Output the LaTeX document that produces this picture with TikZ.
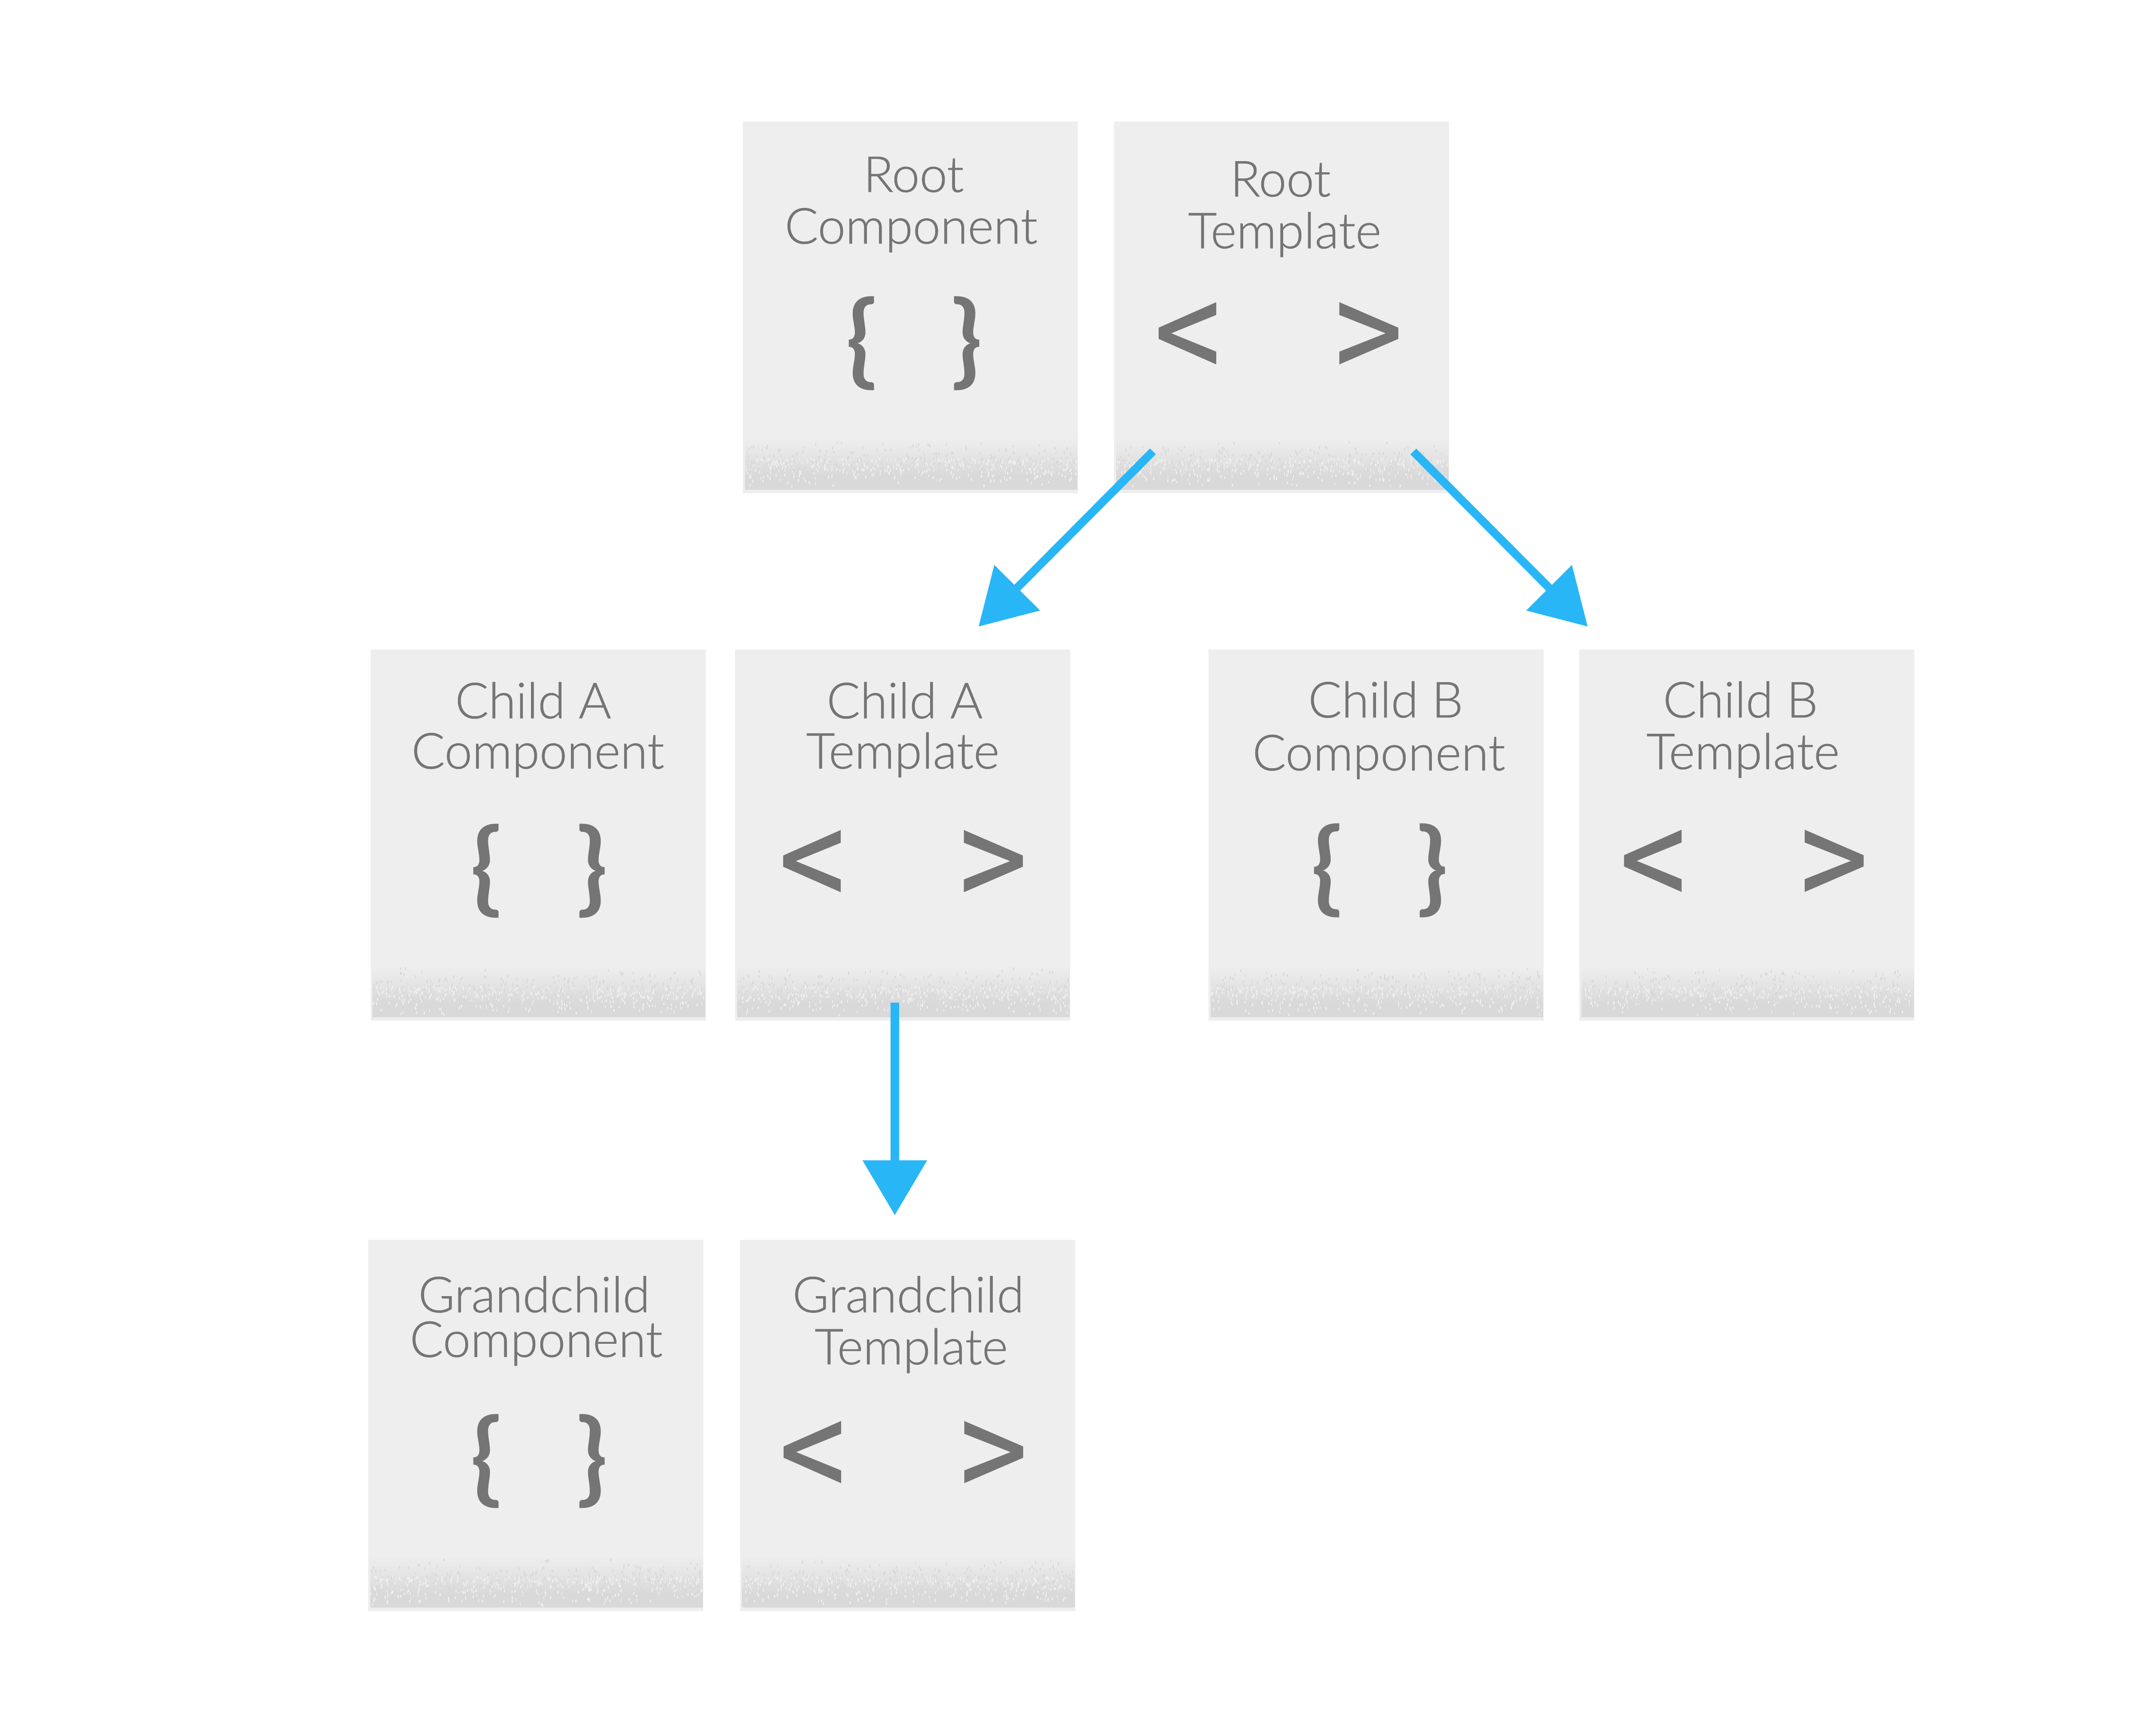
\documentclass[tikz,border=0pt]{standalone}
\usepackage{fontspec}
\setmainfont{Lato}[UprightFont={* Light},BoldFont={* Bold},UprightFeatures={FakeBold=0.8}]
\usetikzlibrary{arrows.meta}
\definecolor{boxfill}{HTML}{EEEEEE}
\definecolor{bandmid}{HTML}{E1E1E1}
\definecolor{bandhi}{HTML}{E9E9E9}
\definecolor{bandbot}{HTML}{D9D9D9}
\definecolor{txt}{HTML}{757575}
\definecolor{arrowc}{HTML}{29B6F6}
% TikZ maps the 25bp..75bp range of a shading onto the path
\pgfdeclareverticalshading{band}{100bp}{color(0bp)=(bandbot); color(25bp)=(bandbot); color(38bp)=(bandbot); color(52bp)=(bandmid); color(65bp)=(bandhi); color(75bp)=(boxfill); color(100bp)=(boxfill)}
\tikzset{
  card/.style={rectangle, fill=boxfill, inner sep=0pt, minimum width=122.3pt, minimum height=135.5pt, anchor=north west},
  lbl/.style={text=txt, font=\fontsize{18.1pt}{18.1pt}\selectfont, inner sep=0pt, anchor=base},
  bracech/.style={text=txt, font=\bfseries\fontsize{37pt}{37pt}\selectfont, inner sep=0pt},
  arr/.style={draw=arrowc, line width=3pt, -{Triangle[length=20pt,width=22.75pt]}},
  glyph/.style={fill=txt}
}
\newcommand\mycard[3]{%
  \node[card] (#1) at (#2,#3) {};
  \shade[shading=band] (#2+2,#3+231) rectangle (#2+244.6,#3+268.7);
  \foreach \k in {1,...,400}{%
    \pgfmathsetmacro\sx{#2+2+241.5*rnd}%
    \pgfmathsetmacro\sy{#3+232+25*sqrt(rnd)}%
    \fill[bandbot] (\sx,\sy) rectangle ++(0.8,2);
    \pgfmathsetmacro\tx{#2+2+241.5*rnd}%
    \pgfmathsetmacro\ty{#3+266.5-21*sqrt(rnd)}%
    \fill[boxfill] (\tx,\ty) rectangle ++(0.8,2);
  }%
}
\newcommand\chevL[2]{%
  \fill[glyph] (#1+42,#2) -- (#1+42,#2+9.3) -- (#1+9.2,#2+22.7) -- (#1+42,#2+36.1) -- (#1+42,#2+45.4) -- (#1,#2+26.8) -- (#1,#2+18.6) -- cycle;}
\newcommand\chevR[2]{%
  \fill[glyph] (#1,#2) -- (#1,#2+9.3) -- (#1+33.8,#2+22.7) -- (#1,#2+36.1) -- (#1,#2+45.4) -- (#1+43,#2+26.8) -- (#1+43,#2+18.6) -- cycle;}
\begin{document}
\begin{tikzpicture}[x=0.5pt,y=-0.5pt]
\pgfmathsetseed{42}
\useasboundingbox (0,0) rectangle (1568,1267.2);
\fill[white] (0,0) rectangle (1568,1267.2);
% cards
\mycard{rc}{541.8}{88.5}
\mycard{rt}{812.9}{88.5}
\mycard{ac}{270.1}{473.8}
\mycard{at}{536.3}{473.8}
\mycard{bc}{881.9}{473.8}
\mycard{bt}{1152.5}{473.8}
\mycard{gc}{268.4}{904.7}
\mycard{gt}{539.8}{904.7}
% labels
\node[lbl] (rc1) at (666.9,140.1) {Root};
\node[lbl] (rc2) at (665.1,177.8) {Component};
\node[lbl] (rt1) at (934.7,143.4) {Root};
\node[lbl] (rt2) at (937.8,181.2) {Template};
\node[lbl] (ac1) at (389.2,524.3) {Child A};
\node[lbl] (ac2) at (392.6,561) {Component};
\node[lbl] (at1) at (660.4,524.3) {Child A};
\node[lbl] (at2) at (659,561) {Template};
\node[lbl] (bc1) at (1011.5,523.7) {Child B};
\node[lbl] (bc2) at (1006.5,562.3) {Component};
\node[lbl] (bt1) at (1270.5,523.7) {Child B};
\node[lbl] (bt2) at (1272.3,561.4) {Template};
\node[lbl] (gc1) at (389.9,957.9) {Grandchild};
\node[lbl] (gc2) at (391.4,990.5) {Component};
\node[lbl] (gt1) at (663,957.9) {Grandchild};
\node[lbl] (gt2) at (665.2,995.9) {Template};
% braces
\node[bracech] (rcl) at (628.85,250.55) {\{};
\node[bracech] (rcr) at (705.75,250.55) {\}};
\node[bracech] (acl) at (355,635.65) {\{};
\node[bracech] (acr) at (432.2,635.65) {\}};
\node[bracech] (bcl) at (968.6,635.6) {\{};
\node[bracech] (bcr) at (1045.85,635.6) {\}};
\node[bracech] (gcl) at (355,1066.75) {\{};
\node[bracech] (gcr) at (432.2,1066.75) {\}};
% chevrons
\chevL{845.8}{220.6}\chevR{977.7}{220.6}
\chevL{571.7}{605.9}\chevR{703.6}{605.9}
\chevL{1185.5}{605.7}\chevR{1317.4}{605.7}
\chevL{572}{1037.3}\chevR{703.9}{1037.3}
% arrows
\coordinate (a1s) at (841.6,329.5);
\coordinate (a1e) at (714.3,457.4);
\coordinate (a2s) at (1031.7,329.6);
\coordinate (a2e) at (1159,457.4);
\coordinate (a3s) at (653.2,731.8);
\coordinate (a3e) at (653.2,887.1);
\draw[arr] (a1s) -- (a1e);
\draw[arr] (a2s) -- (a2e);
\draw[arr] (a3s) -- (a3e);
\end{tikzpicture}
\end{document}
